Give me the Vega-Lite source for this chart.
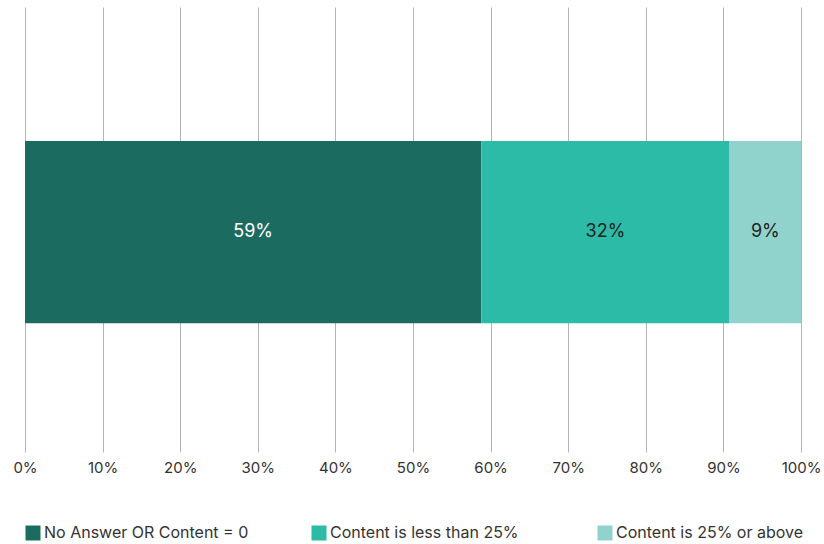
{
  "$schema": "https://vega.github.io/schema/vega-lite/v6.json",
  "width": 776,
  "height": 445,
  "autosize": "none",
  "padding": {"left": 25, "top": 7, "right": 23, "bottom": 92},
  "background": "white",
  "config": {
    "font": "Inter",
    "view": {"stroke": null}
  },
  "data": {
    "values": [
      {"group": "All", "category": "No Answer OR Content = 0", "order": 1, "value": 0.588},
      {"group": "All", "category": "Content is less than 25%", "order": 2, "value": 0.32},
      {"group": "All", "category": "Content is 25% or above", "order": 3, "value": 0.092}
    ]
  },
  "transform": [
    {"stack": "value", "groupby": ["group"], "sort": [{"field": "order"}], "as": ["x0", "x1"]},
    {"calculate": "(datum.x0 + datum.x1) / 2", "as": "mid"}
  ],
  "encoding": {
    "y": {
      "field": "group",
      "type": "nominal",
      "axis": null,
      "scale": {"paddingInner": 0, "paddingOuter": 0.72, "align": 0.51}
    }
  },
  "layer": [
    {
      "mark": {"type": "bar"},
      "encoding": {
        "x": {
          "field": "x0",
          "type": "quantitative",
          "scale": {"domain": [0, 1]},
          "axis": {
            "format": ".0%",
            "values": [0, 0.1, 0.2, 0.3, 0.4, 0.5, 0.6, 0.7, 0.8, 0.9, 1],
            "grid": true,
            "gridColor": "#b4b4b4",
            "gridWidth": 1,
            "domain": false,
            "ticks": false,
            "labelFontSize": 15,
            "labelColor": "#333333",
            "labelPadding": 8,
            "labelFlush": false,
            "title": null
          }
        },
        "x2": {"field": "x1"},
        "color": {
          "field": "category",
          "type": "nominal",
          "sort": ["No Answer OR Content = 0", "Content is less than 25%", "Content is 25% or above"],
          "scale": {
            "domain": ["No Answer OR Content = 0", "Content is less than 25%", "Content is 25% or above"],
            "range": ["#1c6b60", "#2bbba6", "#90d3cc"]
          },
          "legend": {
            "orient": "bottom",
            "direction": "horizontal",
            "columns": 3,
            "gridAlign": "all",
            "title": null,
            "offset": 50,
            "symbolType": "square",
            "symbolSize": 225,
            "symbolStrokeWidth": 0,
            "labelFontSize": 16,
            "labelColor": "#333333",
            "labelOffset": 3,
            "labelLimit": 0,
            "columnPadding": 62,
            "padding": 0
          }
        }
      }
    },
    {
      "mark": {"type": "text", "fontSize": 18, "baseline": "middle", "align": "center"},
      "encoding": {
        "x": {"field": "mid", "type": "quantitative"},
        "text": {"field": "value", "type": "quantitative", "format": ".0%"},
        "color": {
          "condition": {"test": "datum.order === 1", "value": "#ffffff"},
          "value": "#222222"
        }
      }
    }
  ]
}
